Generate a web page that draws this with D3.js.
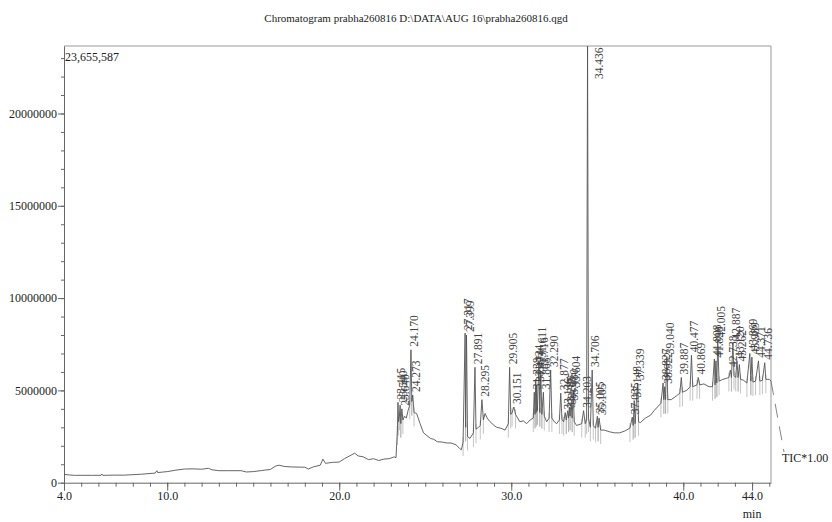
<!DOCTYPE html>
<html>
<head>
<meta charset="utf-8">
<title>Chromatogram</title>
<script src="https://d3js.org/d3.v7.min.js"></script>
<style>
  body { margin: 0; background: #fff; }
  text { font-family: "Liberation Serif", "Times New Roman", serif; }
</style>
</head>
<body>
<svg width="832" height="522"></svg>
<script>
// TIC trace: retention time (min) and intensity
const traceTime = [
  4.0, 4.3, 4.6, 5.0, 5.6, 6.15, 6.2, 6.25, 6.9, 7.5, 8.5, 9.3, 9.4, 9.45, 10.0, 10.5, 11.0, 11.5,
  12.0, 12.4, 12.6, 13.0, 13.5, 14.3, 14.6, 15.0, 15.5, 16.0, 16.3, 16.5, 16.8, 17.3, 18.0, 18.2,
  18.5, 18.9, 19.05, 19.2, 19.6, 20.0, 20.3, 20.6, 20.9, 21.1, 21.4, 21.7, 22.0, 22.3, 22.6, 22.9,
  23.2, 23.3, 23.38, 23.415, 23.45, 23.5, 23.54, 23.58, 23.64, 23.7, 23.8, 23.9, 24.0, 24.1, 24.17,
  24.22, 24.273, 24.35, 24.5, 24.7, 24.9, 25.1, 25.3, 25.5, 25.7, 26.0, 26.25, 26.5, 26.8, 27.0,
  27.1, 27.2, 27.317, 27.35, 27.399, 27.46, 27.6, 27.8, 27.891, 27.95, 28.1, 28.2, 28.295, 28.38,
  28.48, 28.6, 28.77, 29.0, 29.16, 29.4, 29.64, 29.83, 29.905, 29.97, 30.05, 30.151, 30.25, 30.5,
  30.7, 30.9, 31.1, 31.28, 31.338, 31.38, 31.424, 31.45, 31.474, 31.52, 31.611, 31.66, 31.716,
  31.78, 31.868, 31.92, 32.06, 32.2, 32.29, 32.36, 32.5, 32.64, 32.8, 32.877, 32.95, 33.05, 33.136,
  33.2, 33.285, 33.33, 33.375, 33.42, 33.48, 33.54, 33.604, 33.66, 33.8, 34.1, 34.203, 34.3, 34.38,
  34.436, 34.49, 34.6, 34.706, 34.77, 34.9, 35.005, 35.05, 35.105, 35.2, 35.4, 35.7, 36.0, 36.3,
  36.6, 36.9, 37.035, 37.09, 37.148, 37.2, 37.339, 37.4, 37.5, 37.8, 38.1, 38.3, 38.5, 38.7, 38.827,
  38.87, 38.922, 38.97, 39.04, 39.1, 39.3, 39.6, 39.8, 39.887, 39.95, 40.2, 40.4, 40.477, 40.55,
  40.8, 40.869, 40.95, 41.2, 41.5, 41.7, 41.808, 41.85, 41.898, 41.95, 42.005, 42.08, 42.3, 42.5,
  42.65, 42.738, 42.8, 42.887, 42.95, 43.05, 43.12, 43.19, 43.262, 43.33, 43.5, 43.7, 43.869,
  43.93, 43.989, 44.05, 44.2, 44.371, 44.45, 44.6, 44.736, 44.8, 45.0, 45.1
];
const traceValue = [
  450000, 420000, 400000, 400000, 400000, 400000, 470000, 400000, 410000, 410000, 460000, 520000, 650000, 550000, 600000, 680000, 740000, 750000,
  730000, 780000, 700000, 650000, 650000, 650000, 580000, 600000, 660000, 720000, 900000, 950000, 880000, 850000, 840000, 740000,
  860000, 950000, 1280000, 1050000, 1100000, 1120000, 1300000, 1450000, 1600000, 1450000, 1400000, 1250000, 1300000, 1200000, 1280000, 1300000,
  1400000, 1350000, 2800000, 4350000, 3300000, 3600000, 4200000, 3200000, 4000000, 3400000, 3600000, 3500000, 3900000, 4200000, 7200000,
  4400000, 4750000, 3800000, 3750000, 3200000, 2700000, 2550000, 2400000, 2350000, 2220000, 2200000, 2150000, 2150000, 2050000, 1850000,
  1780000, 2200000, 8100000, 3000000, 8000000, 2500000, 2400000, 2700000, 6250000, 2900000, 3000000, 3100000, 4500000, 3400000,
  3750000, 3500000, 3300000, 3100000, 3000000, 2950000, 2850000, 3200000, 6250000, 3700000, 3800000, 4100000, 3700000, 3300000,
  3350000, 3200000, 3400000, 3500000, 4900000, 3700000, 5600000, 3800000, 5300000, 3900000, 6600000, 3800000, 6000000,
  3700000, 4900000, 3600000, 3300000, 3500000, 6100000, 3500000, 3300000, 3200000, 3400000, 4850000, 3400000, 3300000, 3800000,
  3400000, 3900000, 3500000, 4100000, 3600000, 4300000, 3500000, 5000000, 3300000, 3100000, 3200000, 3900000, 3200000, 3400000,
  23655587, 3500000, 3000000, 6100000, 3100000, 2950000, 3600000, 3000000, 3500000, 2850000, 2850000, 2760000, 2700000, 2700000,
  2800000, 2960000, 3550000, 3100000, 4450000, 3200000, 5400000, 3300000, 3250000, 3500000, 3660000, 3900000, 4100000, 4300000, 5400000,
  4500000, 5200000, 4500000, 6800000, 4500000, 4500000, 4700000, 4850000, 5700000, 4900000, 5000000, 5200000, 6900000, 5200000,
  5300000, 5700000, 5300000, 5350000, 5200000, 5200000, 6700000, 5300000, 6600000, 5400000, 7700000, 5500000, 5600000, 5650000,
  5700000, 6100000, 5700000, 7600000, 5800000, 5700000, 6600000, 5700000, 6400000, 5600000, 5550000, 5400000, 7000000,
  5500000, 6800000, 5450000, 5500000, 6600000, 5500000, 5550000, 6500000, 5600000, 5600000, 5500000
];

// labelled peaks (retention time, min)
const peakTimes = [
  23.415, 23.54, 23.64, 24.17, 24.273, 27.317, 27.399, 27.891, 28.295, 29.905, 30.151,
  31.338, 31.424, 31.474, 31.611, 31.716, 31.868, 32.29, 32.877, 33.136, 33.285, 33.375,
  33.48, 33.604, 34.203, 34.436, 34.706, 35.005, 35.105, 37.035, 37.148, 37.339, 38.827,
  38.922, 39.04, 39.887, 40.477, 40.869, 41.808, 41.898, 42.005, 42.738, 42.887, 43.12,
  43.262, 43.869, 43.989, 44.371, 44.736
];

const yMaxValue = 23655587;
const yLabelTicks = [0, 5000000, 10000000, 15000000, 20000000];
const xLabelTicks = [4, 10, 20, 30, 40, 44];
const titleText = 'Chromatogram prabha260816 D:\\DATA\\AUG 16\\prabha260816.qgd';

const svg = d3.select('svg');
const W = 832, H = 522;
const margin = {top: 46, right: 61, bottom: 39.3, left: 64};

const x = d3.scaleLinear().domain([4, 45.1]).range([margin.left, W - margin.right]);
const y = d3.scaleLinear().domain([0, yMaxValue]).range([H - margin.bottom, margin.top]);

// title
svg.append('text')
  .attr('x', 416).attr('y', 22)
  .attr('text-anchor', 'middle')
  .style('font-size', '11px').style('fill', '#222')
  .text(titleText);

// frame (top + right)
svg.append('path')
  .attr('d', `M${margin.left},${margin.top}H${W - margin.right}V${H - margin.bottom}`)
  .attr('fill', 'none').attr('stroke', '#999').attr('stroke-width', 1);

// y axis
const yMinor = svg.append('g').attr('transform', `translate(${margin.left},0)`)
  .call(d3.axisLeft(y).tickValues(d3.range(0, 23000001, 1000000)).tickSize(3).tickFormat(''));
yMinor.select('.domain').remove();
const yAxis = svg.append('g').attr('transform', `translate(${margin.left},0)`)
  .call(d3.axisLeft(y).tickValues(yLabelTicks).tickSize(6).tickSizeOuter(0).tickPadding(1).tickFormat(d3.format('d')));

// x axis
const xMinor = svg.append('g').attr('transform', `translate(0,${H - margin.bottom})`)
  .call(d3.axisBottom(x).tickValues(d3.range(4, 45.1, 1)).tickSize(4).tickFormat(''));
xMinor.select('.domain').remove();
const xAxis = svg.append('g').attr('transform', `translate(0,${H - margin.bottom})`)
  .call(d3.axisBottom(x).tickValues(xLabelTicks).tickSize(8).tickSizeOuter(0).tickPadding(1).tickFormat(d3.format('.1f')));

svg.selectAll('.domain, .tick line').attr('stroke', '#666');
svg.selectAll('.tick text')
  .style('font-family', '"Liberation Serif", "Times New Roman", serif')
  .style('font-size', '12px').style('fill', '#222');

svg.append('text')
  .attr('x', x(44)).attr('y', 518)
  .attr('text-anchor', 'middle')
  .style('font-size', '12px').style('fill', '#222')
  .text('min');

svg.append('text')
  .attr('x', margin.left + 1).attr('y', 61)
  .style('font-size', '12px').style('fill', '#222')
  .text(d3.format(',')(yMaxValue));

// peak boundary marks
const idx = d3.range(traceTime.length);
const peakIdx = peakTimes.map(t => traceTime.indexOf(t));
const marks = [];
peakIdx.forEach(i => { marks.push(i - 1, i + 1); });
svg.append('g').selectAll('line')
  .data(marks)
  .join('line')
  .attr('x1', i => x(traceTime[i])).attr('x2', i => x(traceTime[i]))
  .attr('y1', i => y(traceValue[i]) - 5)
  .attr('y2', i => y(traceValue[i]) + 14)
  .attr('stroke', '#aaa').attr('stroke-width', 0.7);

// trace
const line = d3.line()
  .x(i => x(traceTime[i]))
  .y(i => y(traceValue[i]));
svg.append('path')
  .datum(idx)
  .attr('d', line)
  .attr('fill', 'none')
  .attr('stroke', '#555')
  .attr('stroke-width', 0.9);

// peak labels
svg.append('g').selectAll('text')
  .data(peakIdx)
  .join('text')
  .attr('transform', i => {
    const px = x(traceTime[i]);
    const py = y(traceValue[i]);
    const top = py - 3 < margin.top + 36;
    const ax = top ? px + 15 : px + 7;
    const ay = top ? margin.top + 33 : py - 3;
    return `translate(${ax},${ay}) rotate(-90)`;
  })
  .style('font-size', '11.5px').style('fill', '#444')
  .text(i => d3.format('.3f')(traceTime[i]));

// leader to the trace name
const lastI = traceTime.length - 1;
svg.append('line')
  .attr('x1', x(traceTime[lastI])).attr('y1', y(traceValue[lastI]))
  .attr('x2', 784).attr('y2', 452)
  .attr('stroke', '#666').attr('stroke-width', 0.8)
  .attr('stroke-dasharray', '14,9');
svg.append('text')
  .attr('x', 782).attr('y', 462)
  .style('font-size', '12px').style('fill', '#222')
  .text('TIC*1.00');
</script>
</body>
</html>
